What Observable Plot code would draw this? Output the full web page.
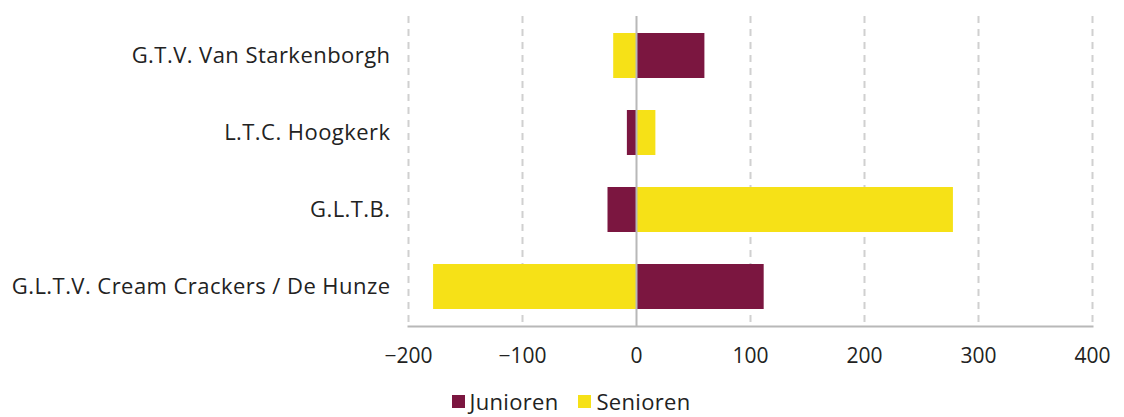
<!DOCTYPE html>
<html>
<head>
<meta charset="utf-8">
<script src="https://cdn.jsdelivr.net/npm/d3@7"></script>
<script src="https://cdn.jsdelivr.net/npm/@observablehq/plot@0.6"></script>
<style>
  html, body { margin: 0; padding: 0; background: #fff; }
  body { width: 1124px; font-family: "Open Sans", Lato, sans-serif; }
  #legend { display: flex; justify-content: center; align-items: center; gap: 20px; font-size: 22px; color: #222; margin-left: 18px; height: 32px; letter-spacing: 0.3px; }
  #legend span.sw { display: inline-block; width: 13px; height: 13px; margin-right: 5px; }
  #legend .item { display: flex; align-items: center; }
</style>
</head>
<body>
<div id="chart"></div>
<div id="legend"></div>
<script>
const clubs = ["G.T.V. Van Starkenborgh", "L.T.C. Hoogkerk", "G.L.T.B.", "G.L.T.V. Cream Crackers / De Hunze"];
const junioren = [60, -8, -25, 112];
const senioren = [-20, 17, 278, -178];
const seriesNames = ["Junioren", "Senioren"];
const seriesColors = ["#7b1640", "#f6e117"];
const xTicks = [-200, -100, 0, 100, 200, 300, 400];

const data = [];
clubs.forEach((c, i) => {
  data.push({club: c, series: "Junioren", value: junioren[i]});
  data.push({club: c, series: "Senioren", value: senioren[i]});
});

const chart = Plot.plot({
  width: 1124,
  height: 385,
  marginLeft: 408,
  marginRight: 32,
  marginTop: 16,
  marginBottom: 59,
  style: {fontFamily: "'Open Sans', Lato, sans-serif", fontSize: "21px", color: "#222", background: "#fff"},
  x: {domain: [-200, 400], label: null},
  y: {domain: clubs, label: null, paddingInner: 0.41, paddingOuter: 0.205},
  color: {domain: seriesNames, range: seriesColors},
  marks: [
    Plot.ruleX(xTicks.filter(d => d !== 0), {stroke: "#d0d0d0", strokeWidth: 2, strokeDasharray: "7,6"}),
    Plot.barX(data, {x: "value", y: "club", fill: "series"}),
    Plot.ruleX([0], {stroke: "#b8b8b8", strokeWidth: 2}),
    Plot.frame({anchor: "bottom", stroke: "#b8b8b8", strokeWidth: 2}),
    Plot.axisX({ticks: xTicks, tickFormat: d => d < 0 ? "\u2212" + Math.abs(d) : String(d), tickSize: 0, tickPadding: 22, fontSize: 21, label: null}),
    Plot.axisY({tickSize: 0, tickPadding: 18, fontSize: 22, label: null})
  ]
});
d3.select(chart).selectAll('g[aria-label="y-axis tick label"] text').attr("letter-spacing", "0.45px");
document.getElementById("chart").appendChild(chart);

const lg = document.getElementById("legend");
seriesNames.forEach((n, i) => {
  const it = document.createElement("div");
  it.className = "item";
  it.innerHTML = `<span class="sw" style="background:${seriesColors[i]}"></span>${n}`;
  lg.appendChild(it);
});
</script>
</body>
</html>
